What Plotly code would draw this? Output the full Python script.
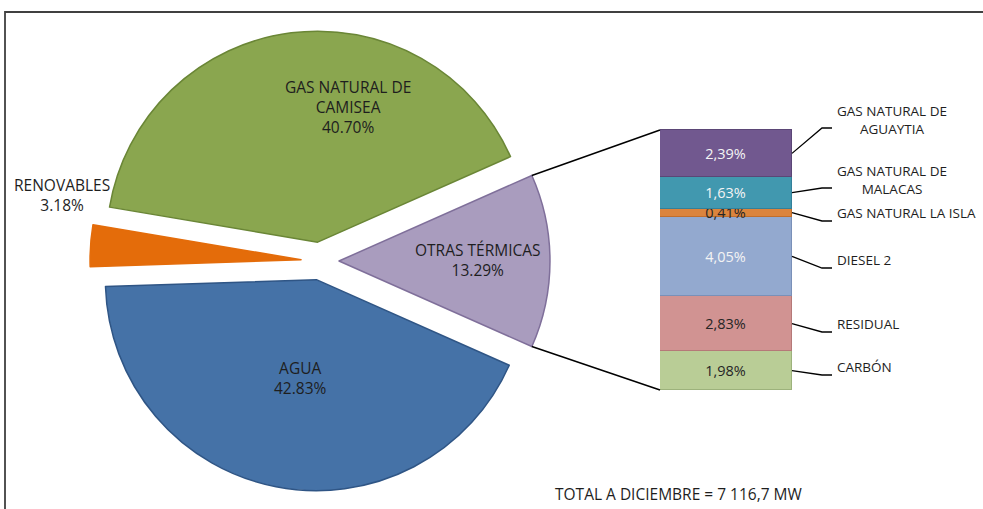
import math
import plotly.graph_objects as go

# ---------------- data ----------------
pie_labels = ["OTRAS TÉRMICAS", "GAS NATURAL DE<br>CAMISEA", "RENOVABLES", "AGUA"]
pie_values = [13.29, 40.70, 3.18, 42.83]

bar_labels = ["CARBÓN", "RESIDUAL", "DIESEL 2", "GAS NATURAL LA ISLA",
              "GAS NATURAL DE<br>MALACAS", "GAS NATURAL DE<br>AGUAYTIA"]
bar_values = [1.98, 2.83, 4.05, 0.41, 1.63, 2.39]
bar_text = ["1,98%", "2,83%", "4,05%", "0,41%", "1,63%", "2,39%"]

total_text = "TOTAL A DICIEMBRE = 7 116,7 MW"

# ---------------- styles ----------------
pie_colors = ["#A99CBE", "#8AA64F", "#E46C0A", "#4572A7"]
pie_line_colors = ["#7F6F9A", "#6A8636", "#E46C0A", "#2F5585"]
bar_colors = ["#B9CD96", "#D19392", "#93A9CF", "#DB843D", "#4198AF", "#71588F"]
bar_line_colors = ["#9DB27C", "#B57978", "#7A90B8", "#C06E2C", "#33809A", "#5B4676"]
bar_text_colors = ["#262626", "#262626", "#F4F4F4", "#262626", "#F4F4F4", "#F4F4F4"]
FONT = "Open Sans"
TXT = "#1E1E1E"
PIE_FS, SIDE_FS, BAR_FS = 15.5, 13.5, 14.5

# ---------------- layout geometry (pixels) ----------------
W, H = 983, 509
CX, CY, R, PULL = 320, 261, 211, 0.09
pie_label_pos = [(478, 260), (348, 107), (62, 195), (300, 378)]
BAR_LEFT, BAR_RIGHT, BAR_TOP, BAR_BOTTOM = 660, 792, 130, 390
label_y_px = [367, 324, 260, 213, 180, 120]
LEADER_DROP = 8
LABEL_X = 835


def px(x):
    return x / W


def py(y):
    return 1 - y / H


total = sum(pie_values)
half = R * (1 + PULL)
rotation = 90 - 360 * pie_values[0] / total / 2

fig = go.Figure()

fig.add_trace(go.Pie(
    labels=pie_labels, values=pie_values, sort=False, direction="counterclockwise",
    rotation=rotation, pull=[PULL] * len(pie_values), textinfo="none",
    marker=dict(colors=pie_colors, line=dict(color=pie_line_colors, width=1.5)),
    domain=dict(x=[px(CX - half), px(CX + half)], y=[py(CY + half), py(CY - half)]),
    showlegend=False, hoverinfo="label+percent",
))

# stacked bar of "otras térmicas"
bar_sum = sum(bar_values)
ppu = (BAR_BOTTOM - BAR_TOP) / bar_sum
Y_DOM_TOP, Y_DOM_BOT = 40, 505
for lab, v, t, c, lc, tc in zip(bar_labels, bar_values, bar_text, bar_colors,
                                bar_line_colors, bar_text_colors):
    fig.add_trace(go.Bar(
        x=[0], y=[v], width=[1], name=lab.replace("<br>", " "), text=[t],
        textposition="inside", insidetextanchor="middle", constraintext="none",
        textangle=0, textfont=dict(family=FONT, size=BAR_FS, color=tc),
        marker=dict(color=c, line=dict(color=lc, width=1)),
        xaxis="x2", yaxis="y2", showlegend=False, cliponaxis=False,
    ))

shapes = []
annotations = []

# connectors from the pie slice to the bar
theta = math.radians(360 * pie_values[0] / total / 2)
sx = CX + PULL * R + R * math.cos(theta)
for sgn, by in ((-1, BAR_TOP), (1, BAR_BOTTOM)):
    sy = CY + sgn * R * math.sin(theta)
    shapes.append(dict(type="line", xref="paper", yref="paper",
                       x0=px(sx), y0=py(sy), x1=px(BAR_LEFT), y1=py(by),
                       line=dict(color="black", width=1.5)))

# leader lines and labels
cum = 0
for lab, v, ly in zip(bar_labels, bar_values, label_y_px):
    mid = BAR_BOTTOM - (cum + v / 2) * ppu
    cum += v
    ey = ly + LEADER_DROP
    path = "M {} {} L {} {} L {} {}".format(px(BAR_RIGHT), py(mid), px(822), py(ey), px(832), py(ey))
    shapes.append(dict(type="path", xref="paper", yref="paper", path=path,
                       line=dict(color="black", width=1.3)))
    annotations.append(dict(xref="paper", yref="paper", x=px(LABEL_X), y=py(ly),
                            xanchor="left", yanchor="middle", align="center",
                            text=lab, showarrow=False,
                            font=dict(family=FONT, size=SIDE_FS, color=TXT)))

# pie labels
for lab, v, (lx, ly) in zip(pie_labels, pie_values, pie_label_pos):
    annotations.append(dict(xref="paper", yref="paper", x=px(lx), y=py(ly),
                            xanchor="center", yanchor="middle", align="center",
                            text="{}<br>{:.2f}%".format(lab, v), showarrow=False,
                            font=dict(family=FONT, size=PIE_FS, color=TXT)))

annotations.append(dict(xref="paper", yref="paper", x=px(553), y=py(494),
                        xanchor="left", yanchor="middle", text=total_text,
                        showarrow=False, font=dict(family=FONT, size=PIE_FS, color=TXT)))

# frame
shapes.append(dict(type="path", xref="paper", yref="paper",
                   path="M {} {} L {} {} L {} {}".format(px(5), py(H + 5), px(5), py(12), px(W + 5), py(12)),
                   line=dict(color="#404040", width=1.8)))

fig.update_layout(
    width=W, height=H, margin=dict(l=0, r=0, t=0, b=0),
    paper_bgcolor="white", plot_bgcolor="rgba(0,0,0,0)",
    barmode="stack", bargap=0,
    xaxis2=dict(domain=[px(BAR_LEFT), 1.0], range=[-0.5, -0.5 + (W - BAR_LEFT) / (BAR_RIGHT - BAR_LEFT)],
                visible=False, fixedrange=True, anchor="y2"),
    yaxis2=dict(domain=[py(Y_DOM_BOT), py(Y_DOM_TOP)],
                range=[-(Y_DOM_BOT - BAR_BOTTOM) / ppu, (BAR_BOTTOM - Y_DOM_TOP) / ppu],
                visible=False, fixedrange=True, anchor="x2"),
    shapes=shapes, annotations=annotations,
    font=dict(family=FONT, color=TXT),
)

fig.write_html("out.html", config={"displayModeBar": False},
               post_script="document.body.style.margin='0';document.body.style.overflow='hidden';")
